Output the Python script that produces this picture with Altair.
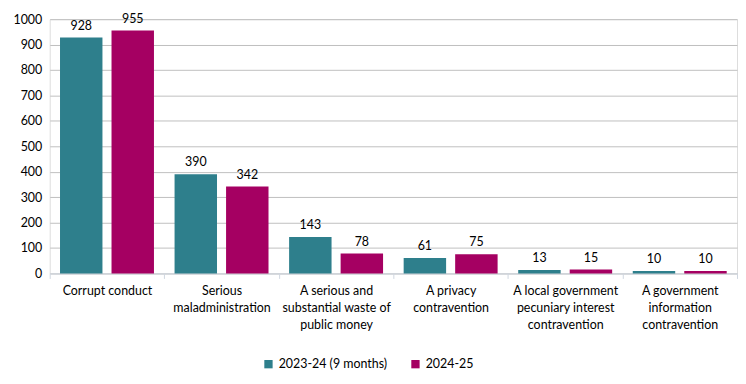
import altair as alt
import pandas as pd

categories = [
    "Corrupt conduct",
    "Serious|maladministration",
    "A serious and|substantial waste of|public money",
    "A privacy|contravention",
    "A local government|pecuniary interest|contravention",
    "A government|information|contravention",
]
series = ["2023-24 (9 months)", "2024-25"]
values_2023 = [928, 390, 143, 61, 13, 10]
values_2024 = [955, 342, 78, 75, 15, 10]
colors = ["#2E7F8C", "#A50062"]
y_ticks = list(range(0, 1001, 100))

rows = []
for c, a, b in zip(categories, values_2023, values_2024):
    rows.append({"cat": c, "series": series[0], "value": a})
    rows.append({"cat": c, "series": series[1], "value": b})
df = pd.DataFrame(rows)

FONT = "Lato"

base = alt.Chart(df).encode(
    x=alt.X(
        "cat:N",
        sort=categories,
        scale=alt.Scale(paddingInner=0, paddingOuter=0),
        axis=alt.Axis(
            title=None,
            labelExpr="split(datum.label, '|')",
            labelAngle=0,
            labelFontSize=12.5,
            labelFont=FONT,
            labelColor="#000000",
            labelLineHeight=17,
            labelPadding=6,
            labelLimit=200,
            tickBand="extent",
            tickSize=5,
            tickColor="#D0D7E0",
            domainColor="#D0D7E0",
            grid=False,
        ),
    ),
    xOffset=alt.XOffset(
        "series:N", sort=series,
        scale=alt.Scale(paddingInner=0.176, paddingOuter=0.2),
    ),
    y=alt.Y(
        "value:Q",
        scale=alt.Scale(domain=[0, 1000], nice=False),
        axis=alt.Axis(
            title=None,
            values=y_ticks,
            format="d",
            labelFontSize=12.5,
            labelFont=FONT,
            labelColor="#000000",
            labelPadding=8,
            domain=False,
            ticks=False,
            grid=True,
            gridColor="#BFBFBF",
            gridWidth=1,
        ),
    ),
)

bars = base.mark_bar().encode(
    color=alt.Color(
        "series:N",
        sort=series,
        scale=alt.Scale(domain=series, range=colors),
        legend=alt.Legend(
            title=None,
            orient="none",
            legendX=214,
            legendY=341,
            direction="horizontal",
            symbolType="square",
            symbolSize=70,
            symbolStrokeWidth=0,
            labelFont=FONT,
            labelFontSize=12.5,
            labelColor="#000000",
            columnPadding=22,
        ),
    )
)

labels = base.mark_text(
    baseline="bottom", dy=-5, font=FONT, fontSize=12.5, color="#000000"
).encode(text="value:Q")

chart = (
    alt.layer(bars, labels)
    .properties(
        width=692,
        height=256,
        padding={"left": 5, "top": 3, "right": 0, "bottom": 0},
    )
    .configure_view(stroke=None)
    .configure(font=FONT)
)

chart.save("out.html", embed_options={"renderer": "svg", "actions": False})
